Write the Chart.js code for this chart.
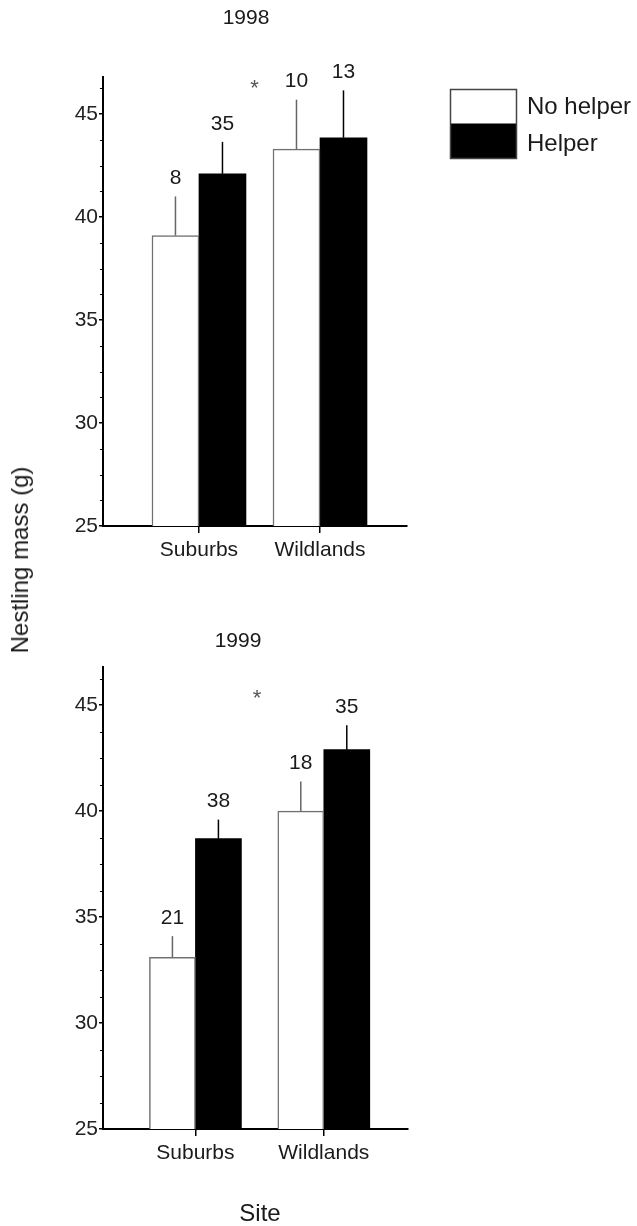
<!DOCTYPE html>
<html>
<head>
<meta charset="utf-8">
<script src="https://cdn.jsdelivr.net/npm/chart.js@4.4.0/dist/chart.umd.min.js"></script>
<style>
  body { margin: 0; background: #fff; }
  #wrap { position: relative; width: 637px; height: 1226px; font-family: "Liberation Sans", Arial, sans-serif; color: #1a1a1a; }
  canvas { position: absolute; left: 0; }
  .lbl { position: absolute; white-space: nowrap; transform: translate(-50%, -50%); }
</style>
</head>
<body>
<div id="wrap">
  <canvas id="c1998" width="637" height="600" style="top:0"></canvas>
  <canvas id="c1999" width="637" height="626" style="top:600px"></canvas>
  <div class="lbl" id="t1998" style="left:246px;top:17px;font-size:21px"></div>
  <div class="lbl" id="t1999" style="left:238px;top:640px;font-size:21px"></div>
  <div class="lbl" id="ytitle" style="left:20px;top:560px;font-size:24px;transform:translate(-50%,-50%) rotate(-90deg)"></div>
  <div class="lbl" id="xtitle" style="left:260px;top:1213px;font-size:24px"></div>
</div>
<script>
// data
const sites = ["Suburbs", "Wildlands"];
const years = ["1998", "1999"];
const seriesNames = ["No helper", "Helper"];
const yTicks = [25, 30, 35, 40, 45];
const yMin = 25;
const yMax = 46.8;
const yTitle = "Nestling mass (g)";
const xTitle = "Site";

const noHelper1998 = [39.1, 43.3];
const helper1998 = [42.1, 43.85];
const noHelperSe1998 = [1.9, 2.4];
const helperSe1998 = [1.55, 2.3];
const noHelperN1998 = [8, 10];
const helperN1998 = [35, 13];

const noHelper1999 = [33.1, 40.0];
const helper1999 = [38.7, 42.9];
const noHelperSe1999 = [1.0, 1.4];
const helperSe1999 = [0.9, 1.15];
const noHelperN1999 = [21, 18];
const helperN1999 = [38, 35];

// significance mark (x in site units, y in grams)
const sigMark = "*";
const sig1998 = { x: 1.46, y: 46.4 };
const sig1999 = { x: 1.48, y: 45.5 };

const FONT = "'Liberation Sans', Arial, sans-serif";
const INK = "#1a1a1a";

document.getElementById("t1998").textContent = years[0];
document.getElementById("t1999").textContent = years[1];
document.getElementById("ytitle").textContent = yTitle;
document.getElementById("xtitle").textContent = xTitle;

// error bars, n labels, star, minor ticks, legend
const extras = {
  id: "extras",
  afterDraw(chart, args, opts) {
    const { ctx } = chart;
    const x = chart.scales.x;
    const y = chart.scales.y;
    ctx.save();

    chart.data.datasets.forEach((ds, di) => {
      const meta = chart.getDatasetMeta(di);
      meta.data.forEach((bar, i) => {
        const top = y.getPixelForValue(ds.data[i].y + ds.se[i]);
        ctx.strokeStyle = ds.errColor;
        ctx.lineWidth = 1.5;
        ctx.beginPath();
        ctx.moveTo(bar.x, bar.y);
        ctx.lineTo(bar.x, top);
        ctx.stroke();

        ctx.fillStyle = INK;
        ctx.font = "21px " + FONT;
        ctx.textAlign = "center";
        ctx.textBaseline = "middle";
        ctx.fillText(String(ds.n[i]), bar.x, top - 18);
      });
    });

    // star
    ctx.fillStyle = "#555";
    ctx.font = "22px " + FONT;
    ctx.textAlign = "center";
    ctx.textBaseline = "middle";
    ctx.fillText(sigMark, x.getPixelForValue(opts.sig.x), y.getPixelForValue(opts.sig.y) + 4);

    // minor ticks every 1.25
    ctx.strokeStyle = "#000";
    ctx.lineWidth = 1;
    const left = chart.chartArea.left;
    for (let v = yMin; v <= yMax; v += 1.25) {
      if (v % 5 === 0) continue;
      const py = Math.round(y.getPixelForValue(v)) + 0.5;
      ctx.beginPath();
      ctx.moveTo(left - 3, py);
      ctx.lineTo(left, py);
      ctx.stroke();
    }

    // legend box (top panel only)
    if (opts.legend) {
      const lx = 450, ly = 89, lw = 66, lh = 69;
      const ds0 = chart.data.datasets[0];
      const ds1 = chart.data.datasets[1];
      ctx.fillStyle = ds0.backgroundColor;
      ctx.fillRect(lx, ly, lw, lh / 2);
      ctx.fillStyle = ds1.backgroundColor;
      ctx.fillRect(lx, ly + lh / 2, lw, lh / 2);
      ctx.strokeStyle = "#444";
      ctx.lineWidth = 1.5;
      ctx.strokeRect(lx + 0.5, ly + 0.5, lw, lh);
      ctx.fillStyle = INK;
      ctx.font = "24px " + FONT;
      ctx.textAlign = "left";
      ctx.textBaseline = "middle";
      ctx.fillText(ds0.label, 527, 107);
      ctx.fillText(ds1.label, 527, 144);
    }
    ctx.restore();
  },
};

function drawPanel(id, noHelper, helper, noSe, hSe, noN, hN, sig, lay) {
  const toPts = (vals) => vals.map((v, i) => ({ x: i + 1, y: v }));
  const ctx = document.getElementById(id).getContext("2d");

  return new Chart(ctx, {
    type: "bar",
    data: {
      datasets: [
        {
          label: seriesNames[0],
          data: toPts(noHelper),
          se: noSe,
          n: noN,
          backgroundColor: "#ffffff",
          borderColor: "#707070",
          borderWidth: 1.5,
          errColor: "#666",
        },
        {
          label: seriesNames[1],
          data: toPts(helper),
          se: hSe,
          n: hN,
          backgroundColor: "#000000",
          borderColor: "#000000",
          borderWidth: 0,
          errColor: "#000",
        },
      ],
    },
    options: {
      responsive: false,
      animation: false,
      datasets: { bar: { barThickness: lay.bar } },
      layout: { padding: lay.padding },
      plugins: {
        legend: { display: false },
        tooltip: { enabled: false },
        extras: { sig: sig, legend: lay.legend },
      },
      scales: {
        x: {
          type: "linear",
          offset: false,
          min: lay.xMin,
          max: lay.xMax,
          afterBuildTicks: (s) => { s.ticks = sites.map((_, i) => ({ value: i + 1 })); },
          afterFit: (s) => { s.height = 45; },
          ticks: {
            callback: (v) => sites[v - 1] ?? "",
            font: { family: FONT, size: 21 },
            color: INK,
            padding: 5,
            maxRotation: 0,
          },
          grid: { offset: false, drawOnChartArea: false, tickLength: 7, color: "#000", lineWidth: 1.5 },
          border: { color: "#000", width: 2 },
        },
        y: {
          min: yMin,
          max: yMax,
          afterBuildTicks: (s) => { s.ticks = yTicks.map((v) => ({ value: v })); },
          afterFit: (s) => { s.width = 45; },
          ticks: {
            font: { family: FONT, size: 21 },
            color: "#222",
            padding: 1,
          },
          grid: { drawOnChartArea: false, tickLength: 4, color: "#000", lineWidth: 1.5 },
          border: { color: "#000", width: 2 },
        },
      },
    },
    plugins: [extras],
  });
}

drawPanel("c1998", noHelper1998, helper1998, noHelperSe1998, helperSe1998, noHelperN1998, helperN1998, sig1998, {
  bar: 47,
  xMin: 0.207,
  xMax: 2.719,
  legend: true,
  padding: { top: 77, left: 58, right: 230, bottom: 29 },
});

drawPanel("c1999", noHelper1999, helper1999, noHelperSe1999, helperSe1999, noHelperN1999, helperN1999, sig1999, {
  bar: 46,
  xMin: 0.28,
  xMax: 2.656,
  legend: false,
  padding: { top: 67, left: 58, right: 229, bottom: 52 },
});
</script>
</body>
</html>
